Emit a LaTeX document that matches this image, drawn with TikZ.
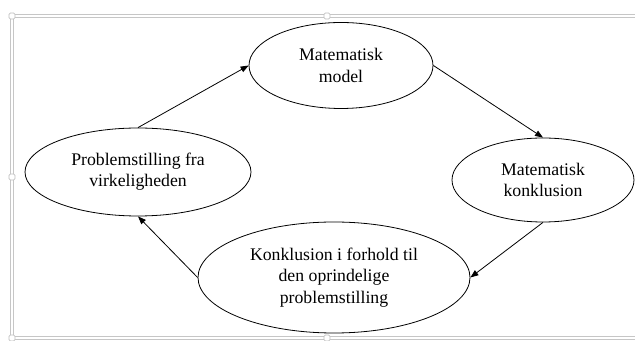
\documentclass[tikz,border=0pt]{standalone}
\usepackage{fontspec}
\setmainfont{Liberation Serif}
\usetikzlibrary{shapes.geometric,arrows.meta}

\tikzset{
  cirkel/.style={draw, ellipse, inner sep=0pt, line width=0.6pt, align=center,
    font=\fontsize{13.3}{16}\selectfont},
  pil/.style={line width=0.6pt, -{Triangle[length=6pt,width=4.5pt]}},
  ramme/.style={draw=gray!45, line width=0.75pt, double=white, double distance=0.9pt},
  greb/.style={draw=gray!50, fill=white, line width=0.6pt, rounded corners=1pt}
}

\begin{document}
\begin{tikzpicture}[x=0.75pt, y=-0.75pt]

\useasboundingbox (0,0) rectangle (635,341);

\draw[ramme] (640,16) to (12,16) to (12,338) to (640,338);
\draw[greb] (9,13) rectangle (15,19);
\draw[greb] (324,13) rectangle (330,19);
\draw[greb] (9,174) rectangle (15,180);
\draw[greb] (9,335) rectangle (15,341);
\draw[greb] (324,335) rectangle (330,341);

\node[cirkel, minimum width=138pt, minimum height=64.5pt] (model) at (341,65.5) {Matematisk\\model};
\node[cirkel, minimum width=169.5pt, minimum height=66pt] (virk) at (138,172) {Problemstilling fra\\virkeligheden};
\node[cirkel, minimum width=136.5pt, minimum height=63pt] (konkl) at (543,180) {Matematisk\\konklusion};
\node[cirkel, minimum width=204pt, minimum height=83.25pt] (forhold) at (334,277.5) {Konklusion i forhold til\\den oprindelige\\problemstilling};

\draw[pil] (virk.north) to (model.west);
\draw[pil] (model.east) to (konkl.north);
\draw[pil] (konkl.south) to (forhold.east);
\draw[pil] (forhold.west) to (virk.south);

\end{tikzpicture}
\end{document}
